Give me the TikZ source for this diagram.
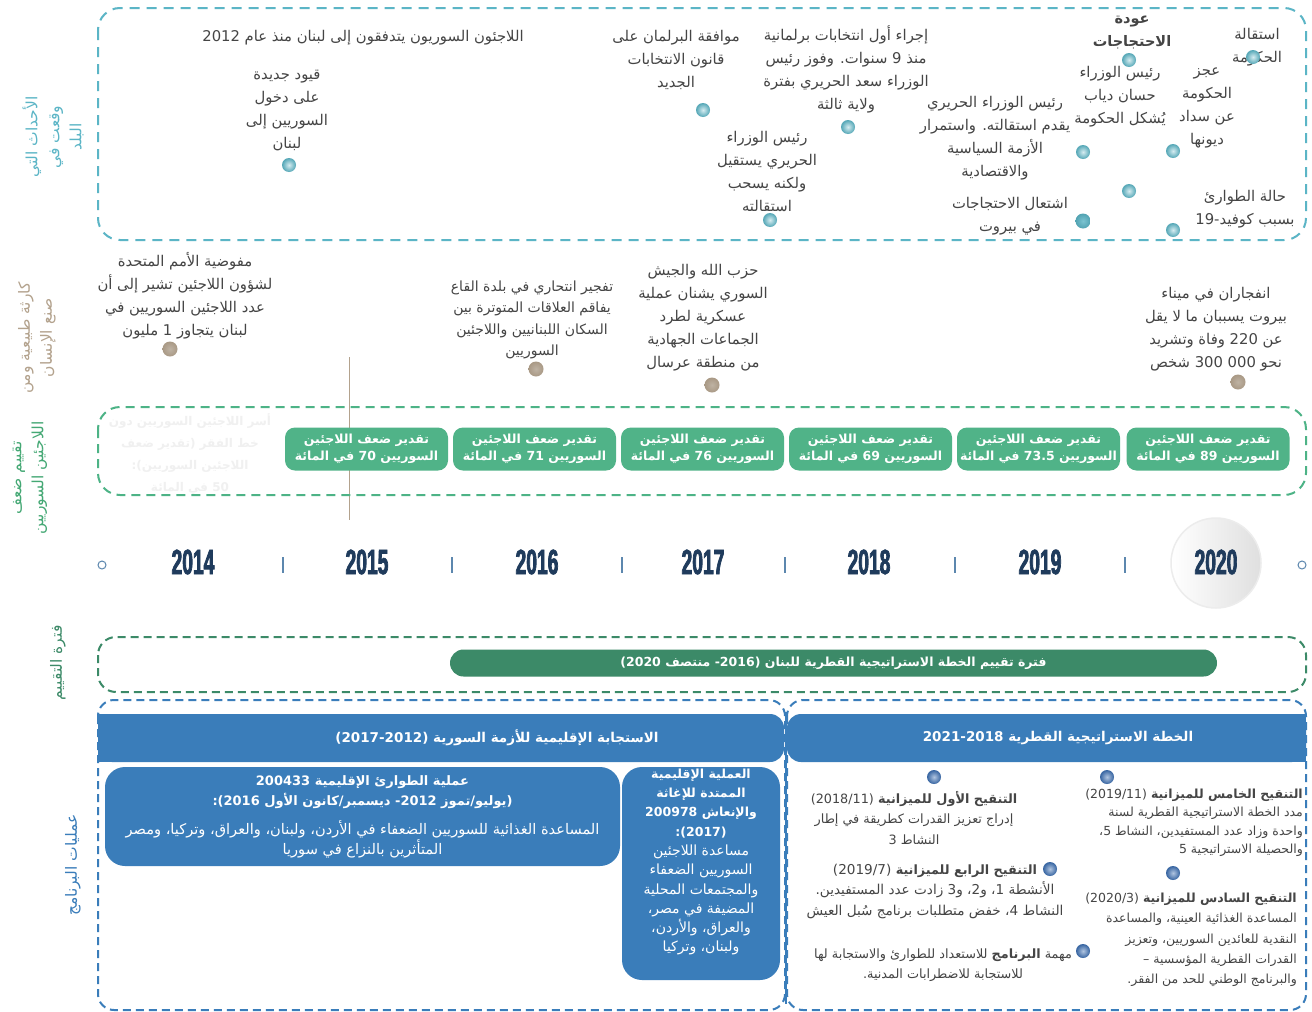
\documentclass[tikz,border=0pt]{standalone}
\usepackage{fontspec}
\setmainfont{Liberation Serif}
\newfontfamily\arfont[Script=Arabic]{DejaVu Sans}
\newfontfamily\yearfont[FakeStretch=0.55,FakeBold=2]{Liberation Sans Bold}
\TeXXeTstate=1
\newcommand\AR[1]{\beginR #1\endR}
\definecolor{tealc}{HTML}{5BB5C6}
\definecolor{txtg}{HTML}{454545}
\definecolor{tanc}{HTML}{B3A28D}
\definecolor{tandot}{HTML}{A99985}
\definecolor{grnc}{HTML}{4DB386}
\definecolor{grnbox}{HTML}{50B388}
\definecolor{grnlab}{HTML}{44A874}
\definecolor{evgrn}{HTML}{3C8A68}
\definecolor{bluec}{HTML}{3A7DBA}
\definecolor{bluedot}{HTML}{3C6FB3}
\definecolor{navy}{HTML}{1F3B5C}
\definecolor{tickc}{HTML}{5C87AE}
\definecolor{fadec}{HTML}{F0F0F0}
\begin{document}
\begin{tikzpicture}[x=1pt,y=-1pt,
  evt/.style={align=center, inner sep=0pt, text=txtg, font=\arfont\fontsize{14.8}{23}\selectfont},
  sidelab/.style={rotate=90, align=center, inner sep=0pt, font=\arfont\fontsize{15.5}{22}\selectfont},
  tdot/.style={circle, inner sep=0pt, minimum size=14pt, inner color=tealc!25!white, outer color=tealc!92!black},
  ndot/.style={circle, inner sep=0pt, minimum size=15pt, inner color=tandot!75!white, outer color=tandot},
  bdot/.style={circle, inner sep=0pt, minimum size=14pt, inner color=bluedot!40!white, outer color=bluedot!90!black},
  tealbox/.style={draw=tealc, line width=2pt, dash pattern=on 10pt off 7pt, rounded corners=22pt},
  grnbord/.style={draw=grnc, line width=2pt, dash pattern=on 9pt off 6pt, rounded corners=22pt},
  evbord/.style={draw=evgrn, line width=2pt, dash pattern=on 8pt off 5pt, rounded corners=18pt},
  bluebord/.style={draw=bluec, line width=2pt, dash pattern=on 8pt off 5pt, rounded corners=16pt},
  vbox/.style={fill=grnbox, rounded corners=10pt, minimum width=163pt, minimum height=43pt, inner sep=0pt, align=center, text=white, font=\arfont\bfseries\fontsize{12.5}{17}\selectfont},
  yr/.style={text=navy, inner sep=0pt, font=\yearfont\fontsize{35}{35}\selectfont},
  tick/.style={draw=tickc, line width=1.3pt},
  rtxt/.style={align=center, inner sep=0pt, text=txtg, font=\arfont\fontsize{12.8}{20.5}\selectfont},
  wtxt/.style={align=center, inner sep=0pt, text=white}
]
\useasboundingbox (0,0) rectangle (1312,1012);
\fill[white] (0,0) rectangle (1312,1012);

% ---------- side labels ----------
\node[sidelab, text=tealc] (L1) at (53,137) {\AR{الأحداث التي}\\\AR{وقعت في}\\\AR{البلد}};
\node[sidelab, text=tanc] (L2) at (37,338) {\AR{كارثة طبيعية ومن}\\\AR{صنع الإنسان}};
\node[sidelab, text=grnlab] (L3) at (30,478) {\AR{تقييم ضعف}\\\AR{اللاجئين السوريين}};
\node[sidelab, text=evgrn] (L4) at (58,663) {\AR{فترة التقييم}};
\node[sidelab, text=bluec] (L5) at (73,865) {\AR{عمليات البرنامج}};

% ---------- events in the country ----------
\draw[tealbox] (98,8) rectangle (1306,240);
\node[evt] (e1) at (363,38) {\AR{اللاجئون السوريون يتدفقون إلى لبنان منذ عام 2012}};
\node[evt] (e2) at (287,110) {\AR{قيود جديدة}\\\AR{على دخول}\\\AR{السوريين إلى}\\\AR{لبنان}};
\node[tdot] (d2) at (289,165) {};
\node[evt] (e3) at (676,60) {\AR{موافقة البرلمان على}\\\AR{قانون الانتخابات}\\\AR{الجديد}};
\node[tdot] (d3) at (703,110) {};
\node[evt] (e4) at (846,69) {\AR{إجراء أول انتخابات برلمانية}\\\AR{منذ 9 سنوات.  وفوز رئيس}\\\AR{الوزراء سعد الحريري بفترة}\\\AR{ولاية ثالثة}};
\node[tdot] (d4) at (848,127) {};
\node[evt] (e5) at (767,171) {\AR{رئيس الوزراء}\\\AR{الحريري يستقيل}\\\AR{ولكنه يسحب}\\\AR{استقالته}};
\node[tdot] (d5) at (770,220) {};
\node[evt] (e6) at (995,138) {\AR{رئيس الوزراء الحريري}\\\AR{يقدم استقالته. واستمرار}\\\AR{الأزمة السياسية}\\\AR{والاقتصادية}};
\node[tdot] (d6) at (1083,152) {};
\node[evt] (e7) at (1010,216) {\AR{اشتعال الاحتجاجات}\\\AR{في بيروت}};
\node[circle, inner sep=0pt, minimum size=15pt, inner color=tealc!80!white, outer color=tealc!90!black] (d7) at (1083,221) {};
\node[evt, font=\arfont\bfseries\fontsize{14.5}{23}\selectfont] (e8) at (1132,32) {\AR{عودة}\\\AR{الاحتجاجات}};
\node[tdot] (d8) at (1129,60) {};
\node[evt] (e9) at (1120,97) {\AR{رئيس الوزراء}\\\AR{حسان دياب}\\\AR{يُشكل الحكومة}};
\node[tdot] (d9) at (1129,191) {};
\node[evt] (e10) at (1207,108) {\AR{عجز}\\\AR{الحكومة}\\\AR{عن سداد}\\\AR{ديونها}};
\node[tdot] (d10) at (1173,151) {};
\node[evt] (e11) at (1257,47) {\AR{استقالة}\\\AR{الحكومة}};
\node[tdot] (d11) at (1253,57) {};
\node[evt] (e12) at (1245,209) {\AR{حالة الطوارئ}\\\AR{بسبب كوفيد-19}};
\node[tdot] (d12) at (1173,230) {};

% ---------- natural and man-made disasters ----------
\node[evt] (n1) at (185,296) {\AR{مفوضية الأمم المتحدة}\\\AR{لشؤون اللاجئين تشير إلى أن}\\\AR{عدد اللاجئين السوريين في}\\\AR{لبنان يتجاوز 1 مليون}};
\node[ndot] (nd1) at (170,349) {};
\node[evt, font=\arfont\fontsize{14}{21.5}\selectfont] (n2) at (532,320) {\AR{تفجير انتحاري في بلدة القاع}\\\AR{يفاقم العلاقات المتوترة بين}\\\AR{السكان اللبنانيين واللاجئين}\\\AR{السوريين}};
\node[ndot] (nd2) at (536,369) {};
\node[evt] (n3) at (703,318) {\AR{حزب الله والجيش}\\\AR{السوري يشنان عملية}\\\AR{عسكرية لطرد}\\\AR{الجماعات الجهادية}\\\AR{من منطقة عرسال}};
\node[ndot] (nd3) at (712,385) {};
\node[evt] (n4) at (1216,329) {\AR{انفجاران في ميناء}\\\AR{بيروت يسببان ما لا يقل}\\\AR{عن 220 وفاة وتشريد}\\\AR{نحو \beginL 300 000\endL{} شخص}};
\node[ndot] (nd4) at (1238,382) {};
\coordinate (vtop) at (349,357);
\coordinate (vbot) at (349,520);
\draw[draw=tanc, line width=1pt] (vtop) -- (vbot);

% ---------- vulnerability assessment ----------
\draw[grnbord] (98,407) rectangle (1306,495);
\node[align=center, inner sep=0pt, text=fadec, font=\arfont\bfseries\fontsize{12}{22}\selectfont] (fade) at (190,454) {\AR{أسر اللاجئين السوريين دون}\\\AR{خط الفقر (تقدير ضعف}\\\AR{اللاجئين السوريين):}\\\AR{50 في المائة}};
\node[vbox] (v15) at (366.5,449) {\AR{تقدير ضعف اللاجئين}\\\AR{السوريين  70 في المائة}};
\node[vbox] (v16) at (534.5,449) {\AR{تقدير ضعف اللاجئين}\\\AR{السوريين 71 في المائة}};
\node[vbox] (v17) at (702.5,449) {\AR{تقدير ضعف اللاجئين}\\\AR{السوريين 76 في المائة}};
\node[vbox] (v18) at (870.5,449) {\AR{تقدير ضعف اللاجئين}\\\AR{السوريين 69  في المائة}};
\node[vbox] (v19) at (1038.5,449) {\AR{تقدير ضعف اللاجئين}\\\AR{السوريين 73.5 في المائة}};
\node[vbox] (v20) at (1208,449) {\AR{تقدير ضعف اللاجئين}\\\AR{السوريين 89 في المائة}};

% ---------- year axis ----------
\node[circle, minimum size=90pt, inner sep=0pt, left color=white, right color=gray!25, draw=gray!15, line width=1.5pt] (c2020) at (1216,563) {};
\node[circle, draw=tickc, line width=1pt, inner sep=0pt, minimum size=8pt] (axL) at (102,565) {};
\node[circle, draw=tickc, line width=1pt, inner sep=0pt, minimum size=8pt] (axR) at (1302,565) {};
\foreach \x/\n in {283/t1,452/t2,622/t3,785/t4,955/t5,1125/t6}{
  \coordinate (\n a) at (\x,557);
  \coordinate (\n b) at (\x,573);
  \draw[tick] (\n a) -- (\n b);
}
\node[yr] (y14) at (193,562) {2014};
\node[yr] (y15) at (367,562) {2015};
\node[yr] (y16) at (537,562) {2016};
\node[yr] (y17) at (703,562) {2017};
\node[yr] (y18) at (869,562) {2018};
\node[yr] (y19) at (1040,562) {2019};
\node[yr] (y20) at (1216,562) {2020};

% ---------- evaluation period ----------
\draw[evbord] (98,637) rectangle (1306,692);
\node[fill=evgrn, rounded corners=13.5pt, minimum width=767pt, minimum height=27pt, inner sep=0pt, text=white, font=\arfont\bfseries\fontsize{12.5}{15}\selectfont] (eval) at (833.5,663) {\AR{فترة تقييم الخطة الاستراتيجية القطرية للبنان (2016- منتصف 2020)}};

% ---------- programme operations ----------
\draw[bluebord] (98,700) rectangle (785,1010);
\draw[bluebord] (787,700) rectangle (1306,1010);
\fill[bluec, rounded corners=14pt] (98,714) rectangle (784,762);
\fill[bluec] (98,714) rectangle (130,762);
\fill[bluec, rounded corners=14pt] (787,714) rectangle (1306,762);
\fill[bluec] (1270,714) rectangle (1306,762);
\coordinate (sepT) at (786,712);
\coordinate (sepB) at (786,1004);
\draw[bluec, line width=2.5pt] (sepT) -- (sepB);
\node[wtxt, font=\arfont\bfseries\fontsize{13.5}{16}\selectfont] (h1) at (497,738) {\AR{الاستجابة الإقليمية للأزمة السورية (2017-2012)}};
\node[wtxt, font=\arfont\bfseries\fontsize{13.5}{16}\selectfont] (h2) at (1058,738) {\AR{الخطة الاستراتيجية القطرية 2021-2018}};

\node[fill=bluec, rounded corners=20pt, minimum width=515pt, minimum height=99pt, inner sep=0pt, wtxt, font=\arfont\fontsize{14.6}{20}\selectfont] (opA) at (362.5,816.5) {{\bfseries\fontsize{13}{20}\selectfont\AR{عملية الطوارئ الإقليمية 200433}}\\{\bfseries\fontsize{13}{20}\selectfont\AR{(يوليو/تموز 2012- ديسمبر/كانون الأول 2016):}}\\[9pt]\AR{المساعدة الغذائية للسوريين الضعفاء في الأردن، ولبنان، والعراق، وتركيا، ومصر}\\\AR{المتأثرين بالنزاع في سوريا}};
\node[fill=bluec, rounded corners=20pt, minimum width=158pt, minimum height=213pt, inner sep=0pt] (opB) at (701,873.5) {};
\node[wtxt, font=\arfont\fontsize{14}{19.3}\selectfont] (opBt) at (701,862) {{\bfseries\fontsize{12.5}{19.3}\selectfont\AR{العملية الإقليمية}}\\{\bfseries\fontsize{12.5}{19.3}\selectfont\AR{الممتدة للإغاثة}}\\{\bfseries\fontsize{12.5}{19.3}\selectfont\AR{والإنعاش 200978}}\\{\bfseries\fontsize{12.5}{19.3}\selectfont\AR{(2017):}}\\\AR{مساعدة اللاجئين}\\\AR{السوريين الضعفاء}\\\AR{والمجتمعات المحلية}\\\AR{المضيفة في مصر،}\\\AR{والعراق، والأردن،}\\\AR{ولبنان، وتركيا}};

\node[bdot] (bd1) at (934,777) {};
\node[rtxt] (r1) at (914,818) {\AR{{\bfseries التنقيح الأول للميزانية} (2018/11)}\\\AR{إدراج تعزيز القدرات كطريقة في إطار}\\\AR{النشاط 3}};
\node[bdot] (bd2) at (1050,869) {};
\node[rtxt, font=\arfont\fontsize{13.6}{20.5}\selectfont] (r2) at (935,891) {\AR{{\bfseries\fontsize{12.8}{20.5}\selectfont التنقيح الرابع للميزانية} (2019/7)}\\\AR{الأنشطة 1، و2، و3 زادت عدد المستفيدين.}\\\AR{النشاط 4، خفض متطلبات برنامج سُبل العيش}};
\node[bdot] (bd3) at (1083,951) {};
\node[rtxt] (r3) at (943,965) {\AR{مهمة {\bfseries البرنامج} للاستعداد للطوارئ والاستجابة لها}\\\AR{للاستجابة للاضطرابات  المدنية.}};
\node[bdot] (bd4) at (1107,777) {};
\node[rtxt, align=right, anchor=east, font=\arfont\fontsize{12.5}{18.5}\selectfont] (r4) at (1303,823) {\AR{{\bfseries التنقيح الخامس للميزانية} (2019/11)}\\\AR{مدد الخطة الاستراتيجية القطرية لسنة}\\\AR{واحدة وزاد عدد المستفيدين، النشاط 5،}\\\AR{والحصيلة الاستراتيجية 5}};
\node[bdot] (bd5) at (1173,873) {};
\node[rtxt, align=right, anchor=east, font=\arfont\fontsize{12.5}{20.3}\selectfont] (r5) at (1297,940) {\AR{{\bfseries التنقيح السادس للميزانية} (2020/3)}\\\AR{المساعدة الغذائية العينية، والمساعدة}\\\AR{النقدية للعائدين السوريين، وتعزيز}\\\AR{القدرات القطرية المؤسسية –}\\\AR{والبرنامج الوطني للحد من الفقر.}};
\end{tikzpicture}
\end{document}
